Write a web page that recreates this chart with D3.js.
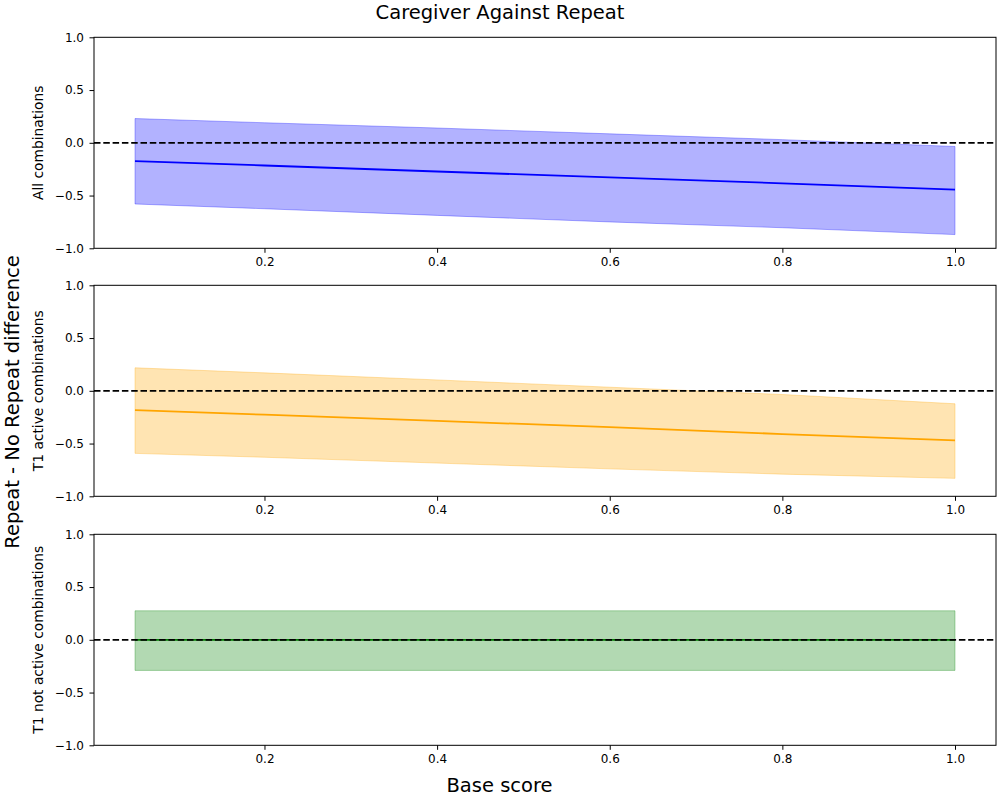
<!DOCTYPE html>
<html>
<head>
<meta charset="utf-8">
<style>
  body { margin:0; background:#fff; }
  svg text { font-family: "DejaVu Sans", sans-serif; fill:#000; }
</style>
<script src="https://d3js.org/d3.v7.min.js"></script>
</head>
<body>
<script>
// base score values sampled along x
var baseScore = [0.05, 0.2, 0.4, 0.6, 0.8, 1.0];

// panel 1: all combinations
var allMean  = [-0.174, -0.215, -0.272, -0.328, -0.384, -0.443];
var allUpper = [ 0.230,  0.190,  0.140,  0.085,  0.030, -0.035];
var allLower = [-0.580, -0.625, -0.688, -0.750, -0.805, -0.870];

// panel 2: T1 active
var actMean  = [-0.183, -0.226, -0.285, -0.345, -0.410, -0.470];
var actUpper = [ 0.218,  0.170,  0.103,  0.034, -0.035, -0.123];
var actLower = [-0.593, -0.630, -0.685, -0.740, -0.790, -0.830];

// panel 3: T1 not active
var notMean  = [0, 0, 0, 0, 0, 0];
var notUpper = [0.275, 0.275, 0.275, 0.275, 0.275, 0.275];
var notLower = [-0.290, -0.290, -0.290, -0.290, -0.290, -0.290];

var xTicks = [0.2, 0.4, 0.6, 0.8, 1.0];
var yTicks = [-1.0, -0.5, 0.0, 0.5, 1.0];

var panelNames = ["All combinations", "T1 active combinations", "T1 not active combinations"];
var panelColors = ["blue", "orange", "green"];

var W = 1000, H = 800;
var left = 94, right = 996, panelH = 211;
var tops = [37.3, 285.3, 534.3];

var svg = d3.select("body").append("svg")
  .attr("width", W).attr("height", H);

var x = d3.scaleLinear().domain([0.0025, 1.0475]).range([left, right]);

var fmt = function(v){ return d3.format(".1f")(v).replace("-", "\u2212"); };

function drawPanel(i, mean, upper, lower) {
  var top = tops[i];
  var y = d3.scaleLinear().domain([-1, 1]).range([top + panelH, top]);
  var g = svg.append("g");
  var col = panelColors[i];
  var pts = baseScore.map(function(b, k){ return {x:b, m:mean[k], u:upper[k], l:lower[k]}; });

  var area = d3.area()
    .x(function(d){ return x(d.x); })
    .y0(function(d){ return y(d.l); })
    .y1(function(d){ return y(d.u); });
  g.append("path").datum(pts)
    .attr("d", area)
    .attr("fill", col).attr("fill-opacity", 0.3)
    .attr("stroke", col).attr("stroke-opacity", 0.3).attr("stroke-width", 1);

  var line = d3.line()
    .x(function(d){ return x(d.x); })
    .y(function(d){ return y(d.m); });
  g.append("path").datum(pts)
    .attr("d", line)
    .attr("fill", "none").attr("stroke", col).attr("stroke-width", 1.8);

  // zero reference line
  g.append("line")
    .attr("x1", left).attr("x2", right)
    .attr("y1", y(0)).attr("y2", y(0))
    .attr("stroke", "black").attr("stroke-width", 1.8)
    .attr("stroke-dasharray", "6.5,2.8");

  var xa = g.append("g").attr("transform", "translate(0," + (top + panelH) + ")")
    .call(d3.axisBottom(x).tickValues(xTicks).tickFormat(fmt).tickSize(4.5).tickPadding(4.5));
  var ya = g.append("g").attr("transform", "translate(" + left + ",0)")
    .call(d3.axisLeft(y).tickValues(yTicks).tickFormat(fmt).tickSize(4.5).tickPadding(5.5));
  [xa, ya].forEach(function(a){
    a.select(".domain").remove();
    a.selectAll("line").attr("stroke", "black").attr("stroke-width", 1);
    a.selectAll("text").style("font-family", "DejaVu Sans").style("font-size", "12px").attr("fill", "black");
  });

  g.append("rect")
    .attr("x", left).attr("y", top)
    .attr("width", right - left).attr("height", panelH)
    .attr("fill", "none").attr("stroke", "black").attr("stroke-width", 1);

  g.append("text")
    .attr("transform", "translate(43," + (top + panelH / 2) + ") rotate(-90)")
    .attr("text-anchor", "middle")
    .style("font-size", "13.8px")
    .text(panelNames[i]);
}

drawPanel(0, allMean, allUpper, allLower);
drawPanel(1, actMean, actUpper, actLower);
drawPanel(2, notMean, notUpper, notLower);

svg.append("text")
  .attr("x", 500).attr("y", 19)
  .attr("text-anchor", "middle")
  .style("font-size", "19.5px")
  .text("Caregiver Against Repeat");

svg.append("text")
  .attr("x", 499.5).attr("y", 792)
  .attr("text-anchor", "middle")
  .style("font-size", "19.5px")
  .text("Base score");

svg.append("text")
  .attr("transform", "translate(19,402) rotate(-90)")
  .attr("text-anchor", "middle")
  .style("font-size", "19.5px")
  .text("Repeat - No Repeat difference");
</script>
</body>
</html>
